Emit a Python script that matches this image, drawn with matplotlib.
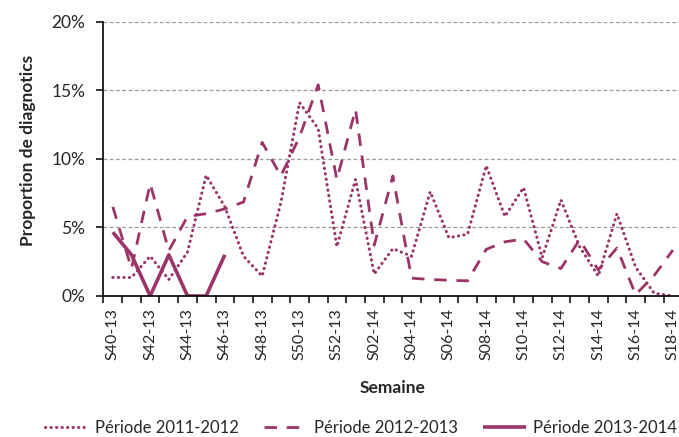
import numpy as np
import matplotlib
matplotlib.use('Agg')
import matplotlib.pyplot as plt

plt.rcParams['font.family'] = ['Lato', 'DejaVu Sans']

weeks = ['S40-13', 'S41-13', 'S42-13', 'S43-13', 'S44-13', 'S45-13', 'S46-13',
         'S47-13', 'S48-13', 'S49-13', 'S50-13', 'S51-13', 'S52-13', 'S01-14',
         'S02-14', 'S03-14', 'S04-14', 'S05-14', 'S06-14', 'S07-14', 'S08-14',
         'S09-14', 'S10-14', 'S11-14', 'S12-14', 'S13-14', 'S14-14', 'S15-14',
         'S16-14', 'S17-14', 'S18-14']

# proportion de diagnostics (%)
p_2011_2012 = [1.35, 1.35, 2.9, 1.2, 3.2, 8.8, 6.5, 2.9, 1.45, 6.8, 14.1, 12.2,
               3.6, 8.5, 1.6, 3.45, 2.9, 7.6, 4.25, 4.5, 9.5, 5.8, 7.9, 2.8,
               7.0, 3.6, 1.45, 6.0, 2.1, 0.2, 0.0]
p_2012_2013 = [6.5, 2.0, 8.2, 3.3, 5.8, 6.0, 6.35, 6.85, 11.2, 8.75, 11.6, 15.4,
               8.5, 13.6, 3.7, 8.75, 1.3, 1.2, 1.15, 1.1, 3.4, 3.95, 4.15, 2.5,
               2.0, 4.1, 1.9, 3.5, 0.1, 1.5, 3.35]
p_2013_2014 = [4.65, 3.0, 0.0, 3.0, 0.0, 0.0, 3.0]

labels = ['Période 2011-2012', 'Période 2012-2013', 'Période 2013-2014']
col = '#9B3468'
txt = '#262626'

fig = plt.figure(figsize=(6.79, 4.37), dpi=100)
ax = fig.add_axes([0.1524, 0.3227, 0.8524, 0.6277])

x = np.arange(len(weeks))
ax.plot(x, p_2011_2012, color=col, lw=2.2, linestyle=(0, (0.1, 1.7)),
        dash_capstyle='round', label=labels[0])
ax.plot(x, p_2012_2013, color=col, lw=2.0, linestyle=(0, (4.5, 3.5)),
        label=labels[1])
ax.plot(np.arange(len(p_2013_2014)), p_2013_2014, color=col, lw=2.6,
        solid_capstyle='butt', label=labels[2])

ax.set_xlim(-0.5, len(weeks) - 0.5)
ax.set_ylim(0, 20)
ax.set_yticks([0, 5, 10, 15, 20])
ax.set_yticklabels(['%d%%' % v for v in [0, 5, 10, 15, 20]])
for v in [5, 10, 15, 20]:
    ax.axhline(v, color='#9a9a9a', lw=0.9, linestyle=(0, (3, 2)), zorder=0)

ax.set_xticks(x[::2])
ax.set_xticklabels(weeks[::2], rotation=90)
ax.set_xticks(np.arange(len(weeks) + 1) - 0.5, minor=True)
ax.tick_params(axis='x', which='major', length=0, pad=9, labelsize=11.5, labelcolor=txt)
ax.tick_params(axis='x', which='minor', length=5, width=1.1, direction='out')
ax.tick_params(axis='y', length=5, width=1.1, pad=8, labelsize=12.5, labelcolor=txt)

ax.spines['top'].set_visible(False)
ax.spines['right'].set_visible(False)
ax.spines['left'].set_linewidth(1.2)
ax.spines['bottom'].set_linewidth(1.2)

ax.set_xlabel('Semaine', fontsize=12.5, fontweight='bold', color=txt, labelpad=14)
fig.text(28 / 679, 1 - 150 / 437, 'Proportion de diagnotics', rotation=90,
         ha='center', va='center', fontsize=12.5, fontweight='bold', color=txt)

fig.legend(loc='center', bbox_to_anchor=(0.532, 1 - 428 / 437), ncol=3,
           frameon=False, fontsize=12, handlelength=2.6, columnspacing=1.5,
           handletextpad=0.4, labelcolor=txt, borderaxespad=0, borderpad=0)

plt.savefig('out.png', dpi=100)
